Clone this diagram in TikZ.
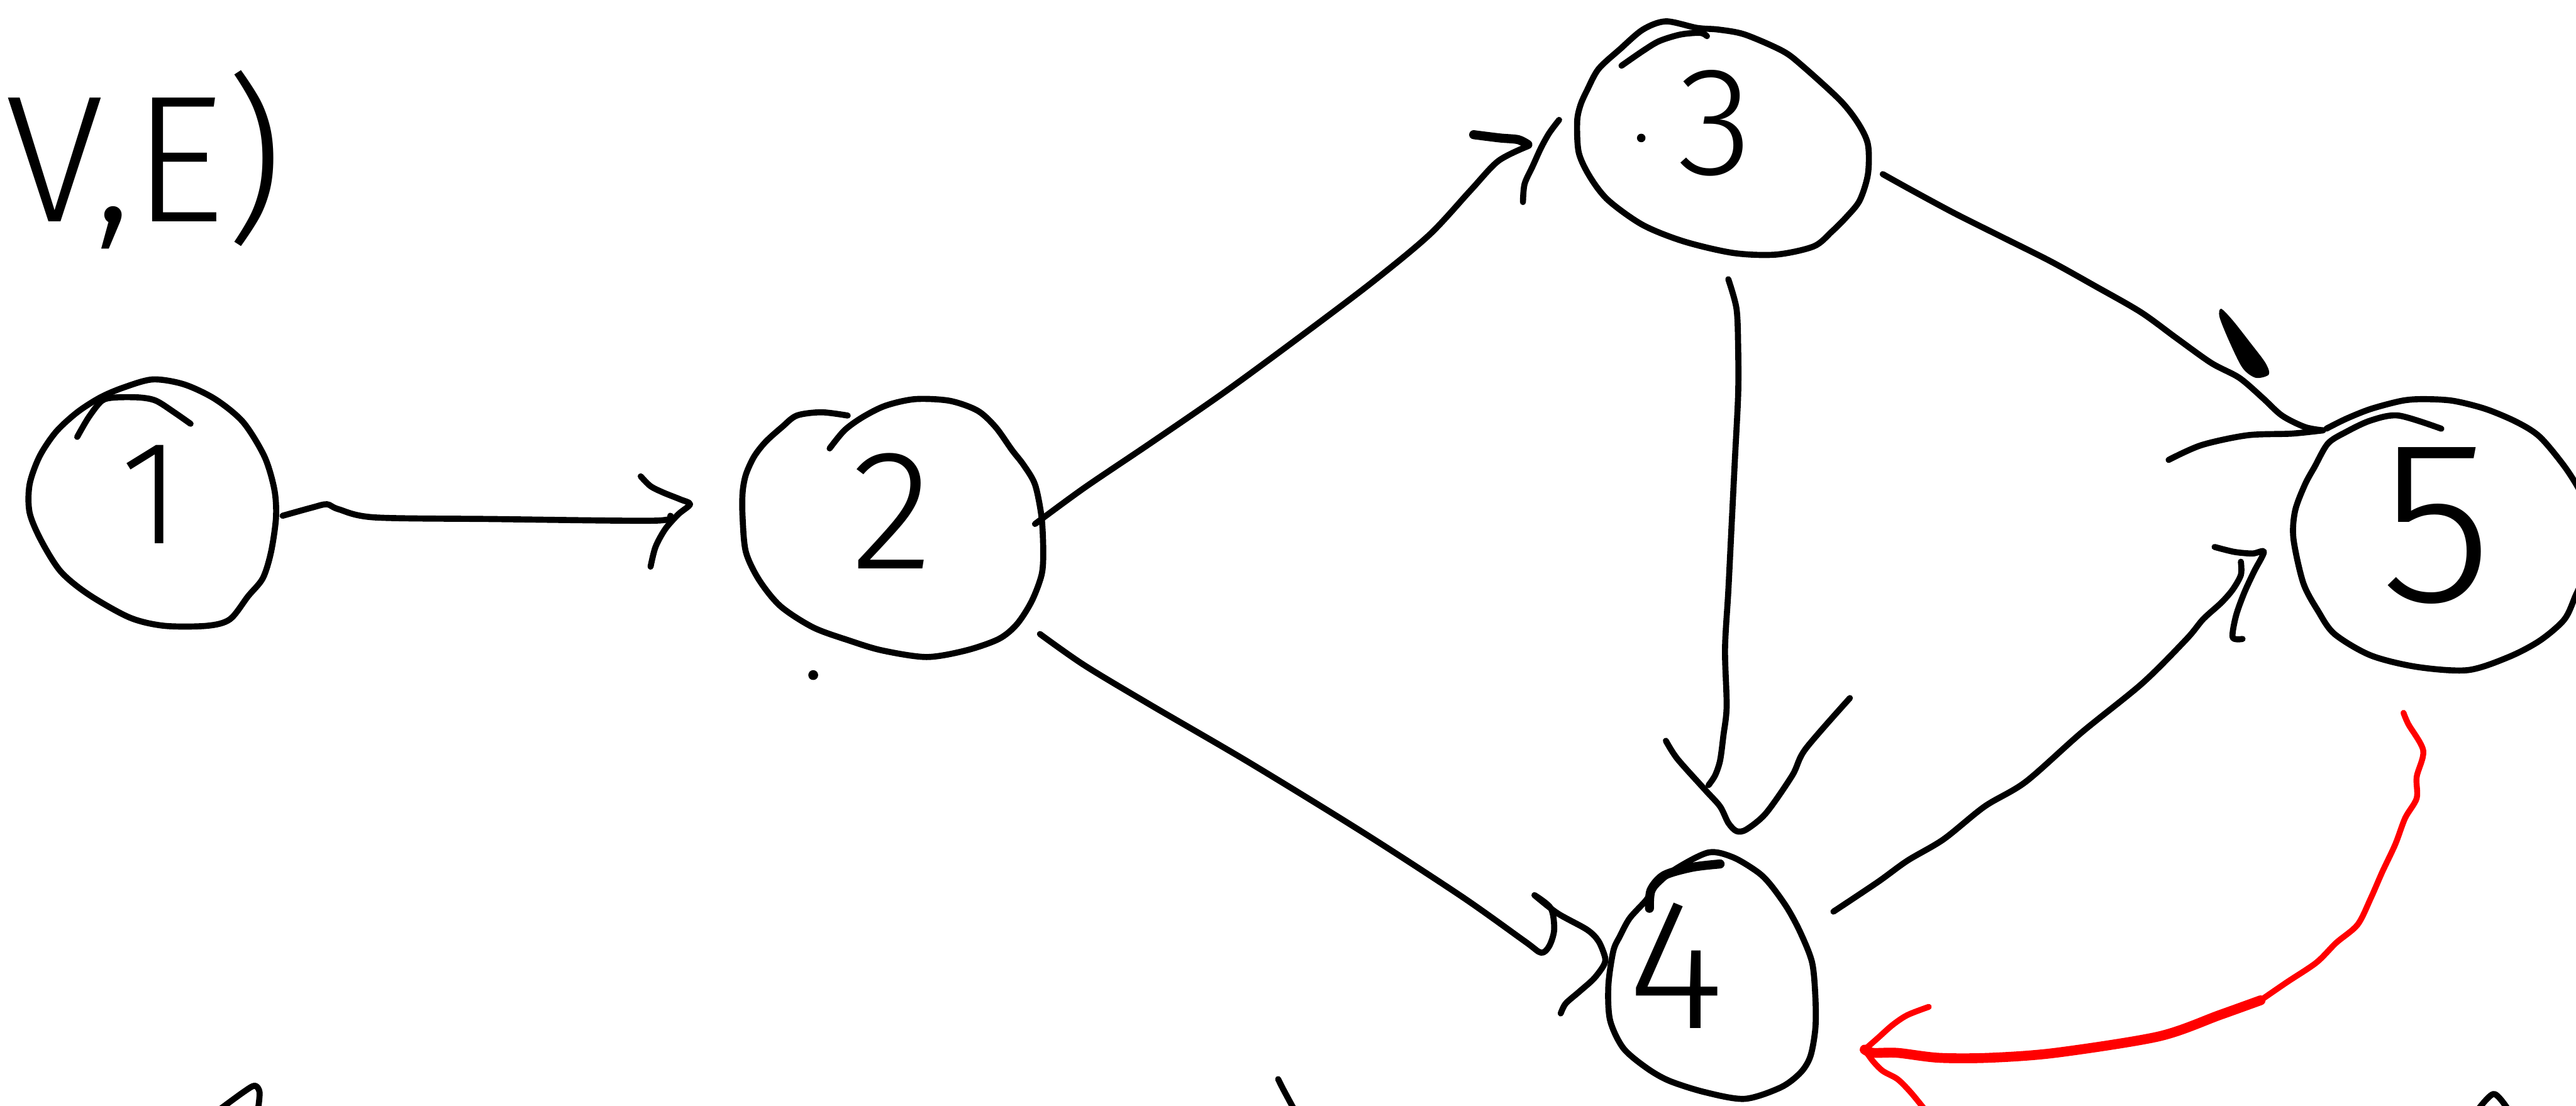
\documentclass[tikz,border=0pt]{standalone}
\usepackage{fontspec}
\newfontfamily\handfont{Fira Sans Light}
\begin{document}
\begin{tikzpicture}[x=1pt,y=-1pt,line cap=round,line join=round,
  ink/.style={line width=3.7pt,draw=black},
  thick ink/.style={line width=5.5pt,draw=black},
  redink/.style={line width=3.6pt,draw=red},
  thick redink/.style={line width=6pt,draw=red},
  digit/.style={inner sep=0pt,outer sep=0pt,text=black}]
\useasboundingbox (0,0) rectangle (1568,673);

% ---------- title ----------
\node[anchor=base west,inner sep=0pt,font=\handfont\fontsize{110}{120}\selectfont] (title) at (3,135) {V,E)};

% ---------- digits (vertex labels) ----------
\node[digit,font=\handfont\fontsize{90}{100}\selectfont]  (n1) at (92,301)   {1};
\node[digit,font=\handfont\fontsize{104}{114}\selectfont] (n2) at (543,311)  {2};
\node[digit,font=\handfont\fontsize{94}{104}\selectfont]  (n3) at (1044,75)  {3};
\node[digit,font=\handfont\fontsize{113}{123}\selectfont] (n4) at (1020,588) {4};
\node[digit,font=\handfont\fontsize{141}{151}\selectfont] (n5) at (1483,320) {5};

% ---------- vertex outlines ----------
% 1
\draw[ink] plot[smooth cycle] coordinates {(93,231) (112,234) (131,243) (148,257) (161,278) (167,298) (168,315) (165,336) (160,352) (151,363) (140,377) (126,381) (100,381) (79,376) (54,362) (37,348) (25,329) (18,312) (18,295) (24,278) (34,263) (47,251) (61,242) (75,236)};
\draw[ink] plot[smooth] coordinates {(47,266) (54,254) (62,244) (70,242) (85,242) (95,244) (106,251) (116,258)};
% 2
\draw[ink] plot[smooth] coordinates {(516,253) (500,251) (485,253) (476,260) (466,269) (459,278) (454,289) (452,300) (452,315) (454,336) (462,353) (475,369) (495,382) (517,390) (537,396) (564,400) (588,396) (608,389) (619,380) (628,366) (634,350) (635,336) (634,315) (630,295) (623,283) (616,274) (606,260) (595,250) (578,244) (557,243) (539,247) (525,254) (514,262) (505,273)};
\fill (495,411) circle (3);
% 3
\draw[ink] plot[smooth cycle] coordinates {(1014,13) (1033,17) (1046,18) (1062,21) (1085,31) (1097,40) (1120,61) (1131,75) (1137,88) (1137,106) (1132,122) (1124,132) (1115,141) (1104,150) (1081,155) (1055,154) (1025,147) (1000,137) (979,122) (968,108) (961,93) (960,74) (962,64) (966,55) (973,42) (986,30) (1000,18)};
\draw[ink] plot[smooth] coordinates {(987,40) (1000,31) (1010,25) (1023,21) (1035,20) (1039,22)};
\fill (999,84) circle (2.6);
% 4
\draw[ink] plot[smooth cycle] coordinates {(1040,519) (1055,522) (1070,531) (1078,539) (1088,553) (1096,568) (1103,586) (1105,607) (1105,626) (1102,643) (1096,653) (1084,662) (1062,669) (1038,665) (1016,658) (1002,650) (988,638) (980,621) (979,600) (982,579) (986,570) (992,559) (1002,548) (1008,539) (1020,529)};
\draw[thick ink] plot[smooth] coordinates {(1004,553) (1005,542) (1013,533) (1030,528) (1047,526)};
% 5
\draw[ink] plot[smooth] coordinates {(1486,261) (1460,253) (1443,256) (1428,263) (1417,270) (1409,284) (1403,295) (1397,311) (1396,328) (1402,355) (1411,372) (1421,386) (1443,399) (1471,406) (1502,408) (1527,400) (1546,390) (1561,377) (1568,362) (1574,349) (1577,335) (1577,315) (1571,300) (1561,284) (1546,266) (1532,257) (1513,249) (1493,244) (1475,243) (1462,244) (1443,249) (1428,255) (1416,261)};

% ---------- connector end points ----------
\coordinate (a12) at (172,314);  \coordinate (b12) at (420,307);
\coordinate (a23) at (630,319);  \coordinate (b23) at (930,89);
\coordinate (a24) at (633,386);  \coordinate (b24) at (977,583);
\coordinate (a34) at (1052,170); \coordinate (b34) at (1040,478);
\coordinate (a35) at (1146,106); \coordinate (b35) at (1414,262);
\coordinate (a45) at (1116,555); \coordinate (b45) at (1364,342);
\coordinate (a54) at (1463,434); \coordinate (b54) at (1135,639);

% 1 -> 2
\draw[ink] plot[smooth] coordinates {(a12) (190,309) (199,307) (206,310) (228,315) (300,316) (398,317) (408,314)};
\draw[ink] plot[smooth] coordinates {(390,290) (396,296) (404,300) (414,304) (b12) (413,313) (405,322) (399,333) (396,345)};
% 2 -> 3
\draw[ink] plot[smooth] coordinates {(a23) (660,297) (700,270) (745,239) (790,206) (835,172) (870,143) (895,116) (912,98) (b23)};
\draw[thick ink] plot[smooth] coordinates {(897,82) (913,84) (924,85) (930,88)};
\draw[ink] plot[smooth] coordinates {(949,73) (943,81) (938,90) (933,101) (928,112) (927,123)};
% 2 -> 4
\draw[ink] plot[smooth] coordinates {(a24) (660,405) (700,429) (760,464) (830,507) (890,546) (928,573) (938,580) (943,576) (946,566) (944,553) (934,545) (948,556) (966,566) (973,573) (b24) (976,588) (970,596) (961,604) (953,611) (950,617)};
% 3 -> 4
\draw[ink] plot[smooth] coordinates {(a34) (1057,188) (1058,212) (1058,240) (1056,280) (1054,320) (1052,360) (1050,395) (1051,430) (1049,448) (1047,463) (1044,472) (b34)};
\draw[ink] plot[smooth] coordinates {(1014,451) (1021,462) (1038,481) (1047,491) (1052,501) (1057,506) (1063,505) (1075,495) (1091,472) (1099,456) (1126,425)};
% 3 -> 5
\draw[ink] plot[smooth] coordinates {(a35) (1164,116) (1190,130) (1218,144) (1248,159) (1275,174) (1303,190) (1325,206) (1346,221) (1363,230) (1377,242) (1389,253) (1403,260) (b35)};
\fill plot[smooth cycle] coordinates {(1352,188) (1359,195) (1370,209) (1379,221) (1381,228) (1373,230) (1365,224) (1357,208) (1351,193)};
\draw[ink] plot[smooth] coordinates {(1320,280) (1340,271) (1368,265) (1395,264) (b35)};
% 4 -> 5
\draw[ink] plot[smooth] coordinates {(a45) (1143,537) (1161,524) (1183,511) (1208,491) (1233,476) (1267,446) (1304,416) (1331,389) (1341,377) (1352,367) (1359,359) (1364,350) (b45)};
\draw[ink] plot[smooth] coordinates {(1348,333) (1360,336) (1371,337) (1378,336) (1372,348) (1366,361) (1361,375) (1359,388) (1365,389)};
% 5 -> 4 (red)
\draw[redink] plot[smooth] coordinates {(a54) (1466,441) (1475,457) (1471,473) (1471,486) (1464,498) (1458,514) (1450,531) (1443,547) (1435,563) (1422,574) (1410,586) (1392,598) (1376,609)};
\draw[thick redink] plot[smooth] coordinates {(1376,609) (1351,618) (1314,631) (1251,641) (1211,644) (1180,644) (1155,641) (1140,641) (b54)};
\draw[redink] plot[smooth] coordinates {(1174,613) (1161,618) (1152,624) (1143,632) (b54)};
\draw[redink] plot[smooth] coordinates {(b54) (1140,646) (1146,652) (1155,657) (1163,665) (1172,676)};

% ---------- strokes cut by the bottom edge ----------
\draw[ink] plot[smooth] coordinates {(133,676) (148,665) (155,661) (158,665) (157,676)};
\draw[ink] plot[smooth] coordinates {(778,657) (781,663) (788,676)};
\draw[ink] plot[smooth] coordinates {(1508,676) (1518,666) (1527,676)};
\end{tikzpicture}
\end{document}
